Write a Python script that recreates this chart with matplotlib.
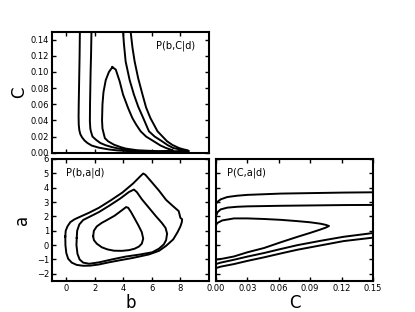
import numpy as np
import matplotlib
matplotlib.use("Agg")
import matplotlib.pyplot as plt

# contornos leidos del grafico original
# panel superior: P(b,C|d)
bc_ext_b = [0.97, 0.95, 0.92, 0.89, 0.88, 0.89, 0.93, 1.0, 1.12, 1.3, 1.5, 1.8, 2.3, 3.0, 3.6, 4.5, 5.5, 6.5, 7.5, 8.2,
            8.6, 8.5, 8.2, 7.9, 7.45, 7.07, 6.4, 5.9, 5.6, 5.35, 5.05, 4.8, 4.65, 4.52]
bc_ext_c = [0.15, 0.12, 0.09, 0.06, 0.045, 0.035, 0.028, 0.023, 0.019, 0.015, 0.012, 0.0088, 0.0062, 0.004, 0.0028, 0.0018, 0.0012, 0.0011, 0.0012, 0.0015,
            0.002, 0.003, 0.0042, 0.0058, 0.0095, 0.0141, 0.0265, 0.043, 0.056, 0.072, 0.092, 0.113, 0.13, 0.15]

bc_med_b = [1.78, 1.75, 1.72, 1.68, 1.67, 1.7, 1.74, 1.85, 2.09, 2.4, 2.78, 3.2, 3.71, 4.3, 5.0, 6.0, 7.0, 7.8,
            8.3, 8.1, 7.5, 7.1, 6.72, 6.2, 5.8, 5.4, 5.05, 4.75, 4.45, 4.17, 4.05, 3.99]
bc_med_c = [0.15, 0.12, 0.1, 0.06, 0.039, 0.03, 0.0265, 0.02, 0.0161, 0.012, 0.0092, 0.007, 0.005, 0.0035, 0.0022, 0.0017, 0.0015, 0.0018,
            0.0025, 0.0035, 0.0058, 0.0095, 0.0141, 0.02, 0.0265, 0.043, 0.057, 0.072, 0.09, 0.113, 0.135, 0.15]

bc_int_b = [3.24, 3.0, 2.78, 2.62, 2.55, 2.52, 2.55, 2.66, 2.72, 2.95, 3.36, 3.8, 4.2, 5.0, 6.5, 7.5,
            7.3, 7.0, 6.6, 6.14, 5.6, 5.22, 4.9, 4.64, 4.35, 3.99, 3.75, 3.48, 3.24]
bc_int_c = [0.106, 0.1, 0.09, 0.075, 0.06, 0.04, 0.03, 0.022, 0.018, 0.014, 0.0099, 0.007, 0.005, 0.003, 0.0018, 0.0025,
            0.004, 0.0058, 0.009, 0.0141, 0.02, 0.0265, 0.035, 0.043, 0.055, 0.072, 0.0885, 0.103, 0.106]

# panel inferior izquierdo: P(b,a|d)
ba_ext_b = [-0.05, -0.02, 0.1, 0.3, 0.6, 0.93, 1.6, 2.3, 3.1, 3.94, 4.7, 5.2, 5.4, 5.55, 5.9, 6.5, 7.0, 7.5, 7.88, 7.95,
            8.0, 8.12, 8.1, 8.0, 7.8, 7.5, 7.0, 6.5, 5.8, 4.64, 3.8, 3.0, 2.3, 1.7, 1.2, 0.75, 0.4, 0.15, 0.02, -0.04, -0.05]
ba_ext_a = [0.6, 1.0, 1.3, 1.6, 1.8, 1.95, 2.25, 2.6, 3.1, 3.66, 4.3, 4.8, 4.99, 4.9, 4.5, 3.8, 3.15, 2.7, 2.37, 2.1,
            1.9, 1.8, 1.6, 1.3, 0.9, 0.4, -0.05, -0.4, -0.65, -0.9, -1.05, -1.2, -1.35, -1.43, -1.44, -1.38, -1.22, -0.95, -0.55, 0.0, 0.6]

ba_med_b = [0.75, 0.78, 0.93, 1.2, 1.6, 2.3, 3.0, 3.8, 4.4, 4.75, 4.95, 5.3, 5.8, 6.3, 6.7, 6.96, 7.07, 7.0, 6.84,
            6.5, 6.03, 5.2, 4.17, 3.2, 2.32, 1.62, 1.2, 0.95, 0.8, 0.73, 0.75]
ba_med_a = [0.5, 1.0, 1.44, 1.75, 1.95, 2.3, 2.73, 3.25, 3.7, 3.87, 3.7, 3.2, 2.6, 2.0, 1.55, 1.2, 0.8, 0.35, 0.05,
            -0.25, -0.5, -0.65, -0.8, -1.0, -1.2, -1.3, -1.22, -1.0, -0.6, 0.0, 0.5]

ba_int_b = [1.9, 1.95, 2.15, 2.5, 2.78, 3.4, 3.94, 4.2, 4.35, 4.55, 4.8, 5.05, 5.3, 5.4, 5.3, 5.1,
            4.8, 4.41, 3.9, 3.36, 2.9, 2.5, 2.15, 1.95, 1.9]
ba_int_a = [0.62, 1.0, 1.3, 1.55, 1.7, 2.05, 2.45, 2.65, 2.6, 2.3, 1.85, 1.4, 0.9, 0.45, 0.1, -0.1,
            -0.25, -0.35, -0.4, -0.39, -0.3, -0.15, 0.1, 0.35, 0.62]

# panel inferior derecho: P(C,a|d)
ca_sup1_c = [0.0, 0.0015, 0.0045, 0.0108, 0.02, 0.03, 0.062, 0.122, 0.15]
ca_sup1_a = [2.88, 3.02, 3.19, 3.35, 3.44, 3.5, 3.59, 3.66, 3.68]

ca_sup2_c = [0.0, 0.0015, 0.0045, 0.0108, 0.02, 0.03, 0.062, 0.122, 0.15]
ca_sup2_a = [2.02, 2.3, 2.49, 2.61, 2.67, 2.7, 2.74, 2.79, 2.8]

ca_int_c = [0.0, 0.0015, 0.006, 0.0172, 0.03, 0.046, 0.062, 0.078, 0.09, 0.1, 0.105, 0.108,
            0.105, 0.1, 0.09, 0.078, 0.062, 0.046, 0.03, 0.0172, 0.006, 0.0015, 0.0]
ca_int_a = [1.4, 1.55, 1.72, 1.86, 1.86, 1.82, 1.76, 1.67, 1.59, 1.49, 1.41, 1.33,
            1.22, 1.09, 0.85, 0.58, 0.2, -0.2, -0.5, -0.79, -0.95, -0.99, -1.0]

ca_inf1_c = [0.0, 0.0045, 0.0172, 0.03, 0.046, 0.062, 0.078, 0.1, 0.122, 0.15]
ca_inf1_a = [-1.32, -1.22, -1.02, -0.8, -0.55, -0.27, 0.0, 0.3, 0.58, 0.84]

ca_inf2_c = [0.0, 0.0045, 0.0172, 0.03, 0.046, 0.062, 0.078, 0.1, 0.122, 0.15]
ca_inf2_a = [-1.6, -1.5, -1.32, -1.1, -0.85, -0.58, -0.32, -0.02, 0.28, 0.52]

plt.rcParams['font.family'] = ['DejaVu Sans']
plt.rcParams['xtick.direction'] = 'in'
plt.rcParams['ytick.direction'] = 'in'

fig = plt.figure(figsize=(4.15, 3.12), dpi=100)
ax_bc = fig.add_axes([0.1246, 0.5106, 0.379, 0.388])
ax_ba = fig.add_axes([0.1246, 0.0994, 0.379, 0.391])
ax_ca = fig.add_axes([0.5205, 0.0994, 0.378, 0.391])

estilo = dict(color='black', lw=1.4, solid_joinstyle='round')

ax_bc.plot(bc_ext_b, bc_ext_c, **estilo)
ax_bc.plot(bc_med_b, bc_med_c, **estilo)
ax_bc.plot(bc_int_b, bc_int_c, **estilo)

ax_ba.plot(ba_ext_b, ba_ext_a, **estilo)
ax_ba.plot(ba_med_b, ba_med_a, **estilo)
ax_ba.plot(ba_int_b, ba_int_a, **estilo)

ax_ca.plot(ca_sup1_c, ca_sup1_a, **estilo)
ax_ca.plot(ca_sup2_c, ca_sup2_a, **estilo)
ax_ca.plot(ca_int_c, ca_int_a, **estilo)
ax_ca.plot(ca_inf1_c, ca_inf1_a, **estilo)
ax_ca.plot(ca_inf2_c, ca_inf2_a, **estilo)

for ax in (ax_bc, ax_ba, ax_ca):
    for s in ax.spines.values():
        s.set_linewidth(1.5)
    ax.tick_params(which='both', top=True, right=True, length=3, width=1, labelsize=6, pad=2)

ax_bc.set_xlim(-1, 10)
ax_bc.set_ylim(0, 0.15)
ax_bc.set_xticks([0, 2, 4, 6, 8])
ax_bc.set_yticks(np.arange(0, 0.141, 0.02))
ax_bc.set_yticklabels(['%.2f' % v for v in np.arange(0, 0.141, 0.02)])
ax_bc.tick_params(labelbottom=False)
ax_bc.set_ylabel('C', fontsize=12, labelpad=2)
ax_bc.text(0.915, 0.93, 'P(b,C|d)', transform=ax_bc.transAxes, ha='right', va='top', fontsize=7)

ax_ba.set_xlim(-1, 10)
ax_ba.set_ylim(-2.5, 6)
ax_ba.set_xticks([0, 2, 4, 6, 8])
ax_ba.set_yticks(range(-2, 7))
ax_ba.set_xlabel('b', fontsize=12, labelpad=1)
ax_ba.set_ylabel('a', fontsize=12, labelpad=4)
ax_ba.text(0.09, 0.93, 'P(b,a|d)', transform=ax_ba.transAxes, ha='left', va='top', fontsize=7)

ax_ca.set_xlim(0, 0.15)
ax_ca.set_ylim(-2.5, 6)
ax_ca.set_xticks(np.arange(0, 0.151, 0.03))
ax_ca.set_xticklabels(['%.2f' % v for v in np.arange(0, 0.151, 0.03)])
ax_ca.set_yticks(range(-2, 7))
ax_ca.tick_params(labelleft=False)
ax_ca.set_xlabel('C', fontsize=12, labelpad=1)
ax_ca.text(0.07, 0.93, 'P(C,a|d)', transform=ax_ca.transAxes, ha='left', va='top', fontsize=7)

fig.savefig('out.png', dpi=100)
